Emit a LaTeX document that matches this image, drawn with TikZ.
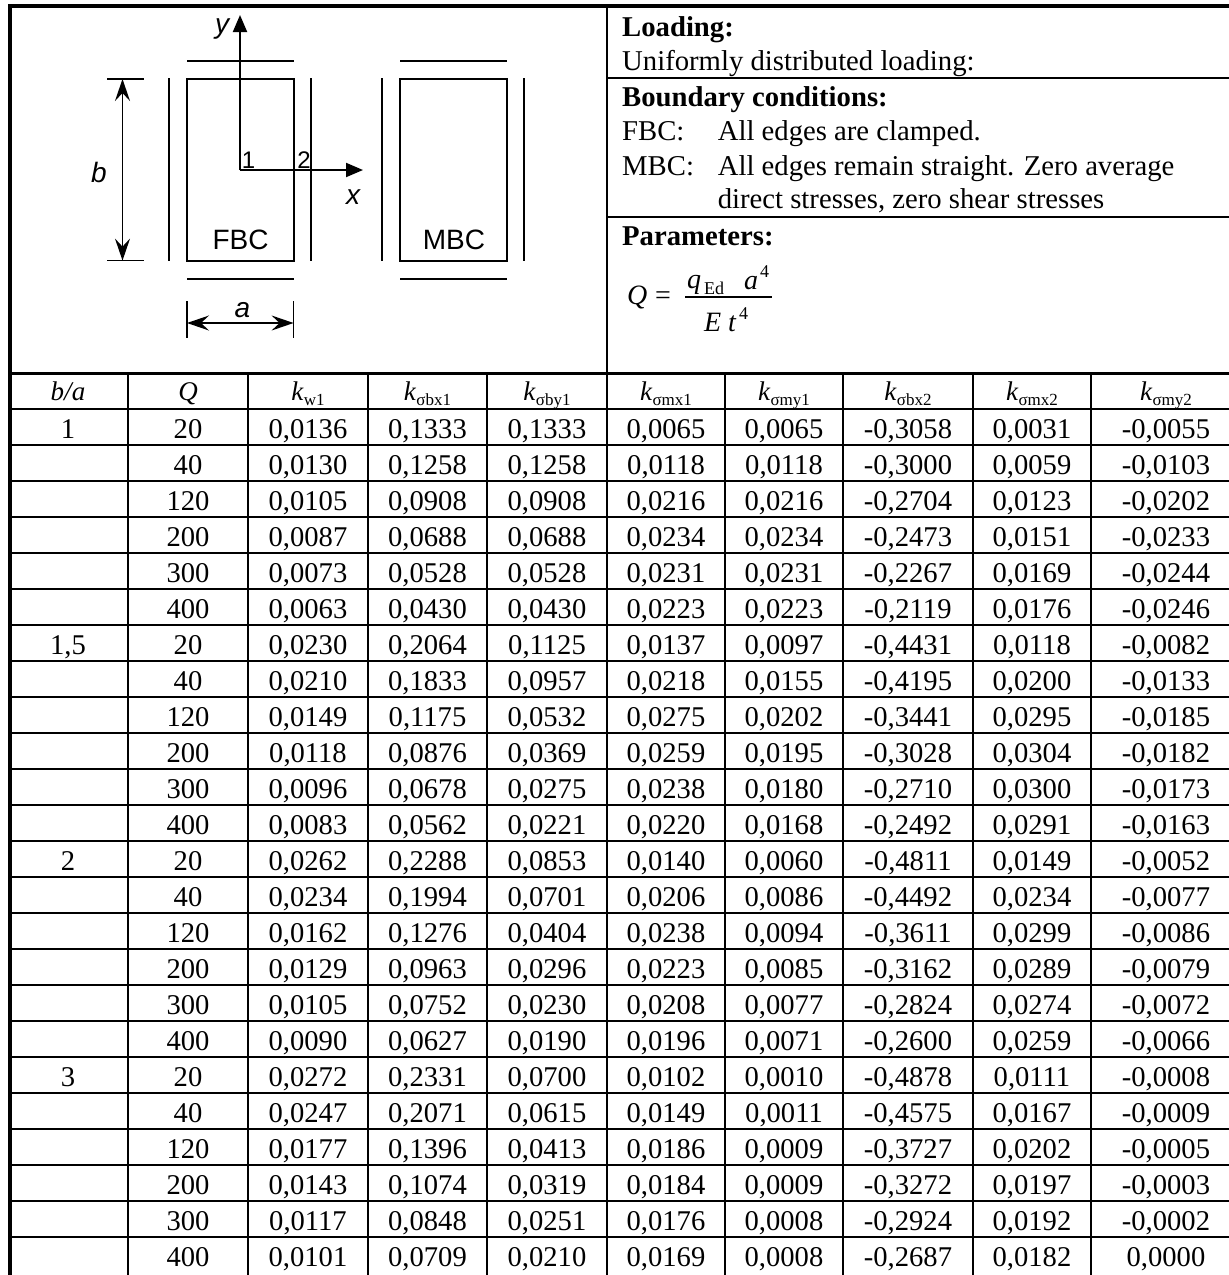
\documentclass[tikz,border=0pt]{standalone}
\usepackage{fontspec}
\setmainfont{Liberation Serif}
\newfontfamily\sansf{Liberation Sans}
\usetikzlibrary{arrows.meta}
\newcount\rowidx
\rowidx=0
\newcommand\trow[9]{%
 \pgfmathsetmacro\yb{438+36*\the\rowidx}%
 \node[dat] (r\the\rowidx q) at (188,\yb) {#1};%
 \node[dat] (r\the\rowidx a) at (308,\yb) {#2};%
 \node[dat] (r\the\rowidx b) at (427.5,\yb) {#3};%
 \node[dat] (r\the\rowidx c) at (547,\yb) {#4};%
 \node[dat] (r\the\rowidx d) at (666,\yb) {#5};%
 \node[dat] (r\the\rowidx e) at (784,\yb) {#6};%
 \node[dat] (r\the\rowidx f) at (908,\yb) {#7};%
 \node[dat] (r\the\rowidx g) at (1032,\yb) {#8};%
 \node[dat] (r\the\rowidx h) at (1166,\yb) {#9};%
 \global\advance\rowidx by 1\relax}
\newcommand\ksub[1]{\textit{k}\raisebox{-5pt}{\fontsize{17}{18}\selectfont #1}}
\begin{document}
\begin{tikzpicture}[x=1pt,y=-1pt,
  grid/.style={line width=2pt,black},
  border/.style={line width=4pt,black,line join=miter},
  dat/.style={anchor=base,inner sep=0pt,font=\fontsize{28.6}{30}\selectfont},
  hdr/.style={anchor=base,inner sep=0pt,font=\fontsize{27}{30}\selectfont},
  info/.style={anchor=base west,inner sep=0pt,font=\fontsize{28.7}{30}\selectfont},
  fm/.style={anchor=base west,inner sep=0pt,font=\fontsize{28}{30}\selectfont},
  fms/.style={anchor=base west,inner sep=0pt,font=\fontsize{18}{20}\selectfont},
  lab/.style={inner sep=0pt,font=\fontsize{28}{30}\selectfont\sansf},
  ilab/.style={inner sep=0pt,font=\fontsize{28}{30}\selectfont\sansf\itshape},
  nlab/.style={inner sep=0pt,font=\fontsize{24}{26}\selectfont\sansf},
  dg/.style={line width=2pt},
  dimln/.style={line width=1.5pt},
  dimarr/.style={line width=1.5pt,>={Stealth[length=22pt,width=15pt,inset=8pt]},<->},
  axarr/.style={line width=2pt,-{Triangle[length=17pt,width=14pt]}}]
\useasboundingbox (0,0) rectangle (1229,1275);
% ---------- frame and grid ----------
\draw[border] (9.5,1275) -- (9.5,5.5) -- (1229,5.5);
\draw[line width=3pt] (8,373) -- (1229,373);
\foreach \yy in {0,...,23} \draw[grid] (8,409+36*\yy) -- (1229,409+36*\yy);
\foreach \xx in {128,248,368,487,725,843,973,1091} \draw[grid] (\xx,373) -- (\xx,1275);
\draw[grid] (607,5) -- (607,1275);
\draw[grid] (607,78) -- (1229,78);
\draw[grid] (607,217) -- (1229,217);
% ---------- diagram ----------
\draw[dg] (187,79) rectangle (293.6,260.6);
\draw[dg] (187,60.6) -- (293.6,60.6);
\draw[dg] (187,279) -- (293.6,279);
\draw[dg] (169.4,78) -- (169.4,260.6);
\draw[dg] (311,78) -- (311,260.6);
\draw[dg] (400,79) rectangle (507,260.6);
\draw[dg] (400,60.6) -- (507,60.6);
\draw[dg] (400,279) -- (507,279);
\draw[dg] (382.3,78) -- (382.3,260.6);
\draw[dg] (524,78) -- (524,260.6);
\coordinate (org) at (240,170);
\coordinate (ytip) at (240,15);
\coordinate (xtip) at (363,170);
\draw[axarr] (org) -- (ytip);
\draw[axarr] (org) -- (xtip);
\node[ilab] (ly) at (222,29) {y};
\node[ilab] (lx) at (353,197) {x};
\node[nlab] (l1) at (248.5,160) {1};
\node[nlab] (l2) at (304,160) {2};
\node[lab] (lfbc) at (240.5,240) {FBC};
\node[lab] (lmbc) at (454,240) {MBC};
\coordinate (bt) at (122.5,79);
\coordinate (bb) at (122.5,260.6);
\draw[dimarr] (bt) -- (bb);
\draw[dimln] (107,79) -- (144,79);
\draw[dimln] (107,260.6) -- (144,260.6);
\node[ilab] (lb) at (99,172) {b};
\coordinate (al) at (187,323);
\coordinate (ar) at (293.6,323);
\draw[dimarr] (al) -- (ar);
\draw[dimln] (187,301) -- (187,338);
\draw[dimln] (293.6,301) -- (293.6,338);
\node[ilab] (la) at (242.5,310) {a};
% ---------- info text ----------
\node[info] (load) at (622,36) {\bfseries Loading:};
\node[info] (udl) at (622,70) {Uniformly distributed loading:};
\node[info] (bc) at (622,106.5) {\bfseries Boundary conditions:};
\node[info] (fbc) at (622,140) {FBC:};
\node[info] (fbct) at (717.6,140) {All edges are clamped.};
\node[info] (mbc) at (622,175) {MBC:};
\node[info] (mbct) at (717.6,175) {All edges remain straight. Zero average};
\node[info] (mbct2) at (717.6,208) {direct stresses, zero shear stresses};
\node[info] (par) at (622,245.5) {\bfseries Parameters:};
% formula
\node[fm] (fQ) at (627,304) {\textit{Q}};
\node[fm] (feq) at (655,304) {=};
\draw[line width=1.5pt] (685,297) -- (772,297);
\node[fm] (fq) at (687,288) {\textit{q}};
\node[fms] (fEd) at (704,294) {Ed};
\node[fm] (fa) at (744,289) {\textit{a}};
\node[fms] (f4a) at (760,277) {4};
\node[fm] (fE) at (704,331) {\textit{E}};
\node[fm] (ft) at (728,331) {\textit{t}};
\node[fms] (f4b) at (739,319) {4};
% ---------- header ----------
\node[hdr] (hba) at (68,400) {\textit{b/a}};
\node[hdr] (hq) at (188,400) {\textit{Q}};
\node[hdr] (hk1) at (308,400) {\ksub{w1}};
\node[hdr] (hk2) at (427.5,400) {\ksub{σbx1}};
\node[hdr] (hk3) at (547,400) {\ksub{σby1}};
\node[hdr] (hk4) at (666,400) {\ksub{σmx1}};
\node[hdr] (hk5) at (784,400) {\ksub{σmy1}};
\node[hdr] (hk6) at (908,400) {\ksub{σbx2}};
\node[hdr] (hk7) at (1032,400) {\ksub{σmx2}};
\node[hdr] (hk8) at (1166,400) {\ksub{σmy2}};
% ---------- b/a ----------
\node[dat] (ba1) at (68,438) {1};
\node[dat] (ba15) at (68,654) {1,5};
\node[dat] (ba2) at (68,870) {2};
\node[dat] (ba3) at (68,1086) {3};
% ---------- data ----------
\trow{20}{0,0136}{0,1333}{0,1333}{0,0065}{0,0065}{-0,3058}{0,0031}{-0,0055}
\trow{40}{0,0130}{0,1258}{0,1258}{0,0118}{0,0118}{-0,3000}{0,0059}{-0,0103}
\trow{120}{0,0105}{0,0908}{0,0908}{0,0216}{0,0216}{-0,2704}{0,0123}{-0,0202}
\trow{200}{0,0087}{0,0688}{0,0688}{0,0234}{0,0234}{-0,2473}{0,0151}{-0,0233}
\trow{300}{0,0073}{0,0528}{0,0528}{0,0231}{0,0231}{-0,2267}{0,0169}{-0,0244}
\trow{400}{0,0063}{0,0430}{0,0430}{0,0223}{0,0223}{-0,2119}{0,0176}{-0,0246}
\trow{20}{0,0230}{0,2064}{0,1125}{0,0137}{0,0097}{-0,4431}{0,0118}{-0,0082}
\trow{40}{0,0210}{0,1833}{0,0957}{0,0218}{0,0155}{-0,4195}{0,0200}{-0,0133}
\trow{120}{0,0149}{0,1175}{0,0532}{0,0275}{0,0202}{-0,3441}{0,0295}{-0,0185}
\trow{200}{0,0118}{0,0876}{0,0369}{0,0259}{0,0195}{-0,3028}{0,0304}{-0,0182}
\trow{300}{0,0096}{0,0678}{0,0275}{0,0238}{0,0180}{-0,2710}{0,0300}{-0,0173}
\trow{400}{0,0083}{0,0562}{0,0221}{0,0220}{0,0168}{-0,2492}{0,0291}{-0,0163}
\trow{20}{0,0262}{0,2288}{0,0853}{0,0140}{0,0060}{-0,4811}{0,0149}{-0,0052}
\trow{40}{0,0234}{0,1994}{0,0701}{0,0206}{0,0086}{-0,4492}{0,0234}{-0,0077}
\trow{120}{0,0162}{0,1276}{0,0404}{0,0238}{0,0094}{-0,3611}{0,0299}{-0,0086}
\trow{200}{0,0129}{0,0963}{0,0296}{0,0223}{0,0085}{-0,3162}{0,0289}{-0,0079}
\trow{300}{0,0105}{0,0752}{0,0230}{0,0208}{0,0077}{-0,2824}{0,0274}{-0,0072}
\trow{400}{0,0090}{0,0627}{0,0190}{0,0196}{0,0071}{-0,2600}{0,0259}{-0,0066}
\trow{20}{0,0272}{0,2331}{0,0700}{0,0102}{0,0010}{-0,4878}{0,0111}{-0,0008}
\trow{40}{0,0247}{0,2071}{0,0615}{0,0149}{0,0011}{-0,4575}{0,0167}{-0,0009}
\trow{120}{0,0177}{0,1396}{0,0413}{0,0186}{0,0009}{-0,3727}{0,0202}{-0,0005}
\trow{200}{0,0143}{0,1074}{0,0319}{0,0184}{0,0009}{-0,3272}{0,0197}{-0,0003}
\trow{300}{0,0117}{0,0848}{0,0251}{0,0176}{0,0008}{-0,2924}{0,0192}{-0,0002}
\trow{400}{0,0101}{0,0709}{0,0210}{0,0169}{0,0008}{-0,2687}{0,0182}{0,0000}
\end{tikzpicture}
\end{document}
